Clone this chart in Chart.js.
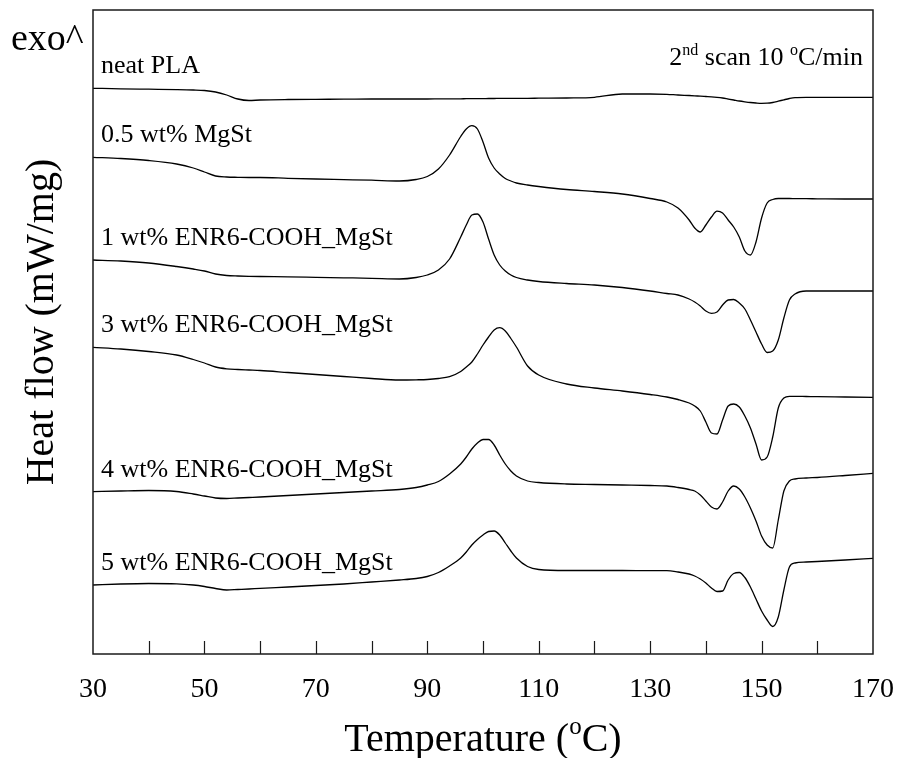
<!DOCTYPE html>
<html>
<head>
<meta charset="utf-8">
<script src="https://cdn.jsdelivr.net/npm/chart.js@4.4.0/dist/chart.umd.min.js"></script>
<style>
  body { margin: 0; background: #fff; }
  #wrap { width: 899px; height: 758px; }
</style>
</head>
<body>
<div id="wrap"><canvas id="grafico-dsc" width="899" height="758"></canvas></div>
<script>
// temperatura (oC)
var temperaturas = [30, 35, 40, 45, 48, 50, 52, 54, 56, 58, 60, 65, 70, 75, 80, 85, 88, 90, 92, 94, 96,
    97, 98, 99, 100, 101, 102, 103, 104, 105, 106, 108, 110, 115, 120, 125, 130, 133, 135,
    137, 138, 139, 140, 141, 142, 143, 144, 145, 146, 147, 148, 149, 150, 151, 152, 153, 154, 155, 156,
    158, 160, 165, 170];

// fluxo de calor com deslocamento vertical entre as curvas
var neatPLA = [5.657, 5.652, 5.648, 5.644, 5.640, 5.635, 5.620, 5.590, 5.550, 5.535, 5.540, 5.545, 5.547, 5.548, 5.550, 5.550, 5.550, 5.550, 5.551, 5.552, 5.552,
    5.553, 5.553, 5.554, 5.554, 5.555, 5.555, 5.556, 5.556, 5.557, 5.557, 5.557, 5.558, 5.560, 5.567, 5.600, 5.600, 5.597, 5.590,
    5.585, 5.582, 5.578, 5.575, 5.572, 5.567, 5.560, 5.550, 5.540, 5.530, 5.522, 5.515, 5.510, 5.507, 5.508, 5.515, 5.528, 5.542, 5.555, 5.564,
    5.567, 5.567, 5.567, 5.567];

var mgst05 = [4.967, 4.955, 4.935, 4.900, 4.860, 4.820, 4.780, 4.770, 4.767, 4.765, 4.765, 4.757, 4.750, 4.744, 4.738, 4.730, 4.745, 4.775, 4.850, 4.990, 5.175,
    5.250, 5.283, 5.250, 5.120, 4.960, 4.860, 4.800, 4.755, 4.730, 4.710, 4.690, 4.675, 4.645, 4.625, 4.600, 4.555, 4.520, 4.460,
    4.340, 4.260, 4.220, 4.290, 4.370, 4.428, 4.410, 4.340, 4.270, 4.170, 4.030, 3.990, 4.120, 4.360, 4.510, 4.545, 4.555, 4.555, 4.555, 4.554,
    4.553, 4.552, 4.550, 4.550];

var enr1 = [3.940, 3.930, 3.910, 3.875, 3.850, 3.830, 3.800, 3.785, 3.780, 3.777, 3.775, 3.772, 3.767, 3.762, 3.757, 3.750, 3.765, 3.790, 3.840, 3.950, 4.170,
    4.290, 4.390, 4.400, 4.320, 4.150, 3.990, 3.890, 3.830, 3.790, 3.765, 3.740, 3.725, 3.705, 3.690, 3.665, 3.630, 3.605, 3.590,
    3.550, 3.520, 3.480, 3.430, 3.407, 3.420, 3.490, 3.540, 3.545, 3.510, 3.450, 3.340, 3.220, 3.100, 3.015, 3.030, 3.140, 3.360, 3.540, 3.600,
    3.630, 3.630, 3.630, 3.630];

var enr3 = [3.067, 3.050, 3.025, 2.990, 2.945, 2.910, 2.870, 2.852, 2.845, 2.840, 2.835, 2.815, 2.795, 2.775, 2.755, 2.740, 2.742, 2.745, 2.755, 2.773, 2.825,
    2.870, 2.920, 3.000, 3.090, 3.170, 3.240, 3.263, 3.230, 3.155, 3.070, 2.880, 2.790, 2.700, 2.660, 2.630, 2.595, 2.570, 2.545,
    2.510, 2.480, 2.430, 2.320, 2.210, 2.200, 2.340, 2.480, 2.500, 2.470, 2.380, 2.260, 2.100, 1.940, 1.970, 2.170, 2.460, 2.560, 2.577, 2.577,
    2.575, 2.573, 2.570, 2.567];

var enr4 = [1.623, 1.630, 1.635, 1.625, 1.600, 1.580, 1.560, 1.555, 1.560, 1.565, 1.570, 1.585, 1.600, 1.615, 1.630, 1.645, 1.665, 1.690, 1.725, 1.800, 1.900,
    1.970, 2.050, 2.110, 2.145, 2.145, 2.090, 1.990, 1.900, 1.830, 1.780, 1.730, 1.715, 1.700, 1.695, 1.690, 1.685, 1.680, 1.665,
    1.645, 1.630, 1.590, 1.530, 1.470, 1.450, 1.520, 1.630, 1.680, 1.650, 1.570, 1.460, 1.330, 1.180, 1.090, 1.060, 1.340, 1.630, 1.730, 1.750,
    1.760, 1.765, 1.785, 1.807];

var enr5 = [0.690, 0.700, 0.705, 0.702, 0.690, 0.675, 0.655, 0.640, 0.645, 0.650, 0.657, 0.670, 0.685, 0.700, 0.720, 0.740, 0.755, 0.775, 0.815, 0.880, 0.960,
    1.020, 1.090, 1.145, 1.190, 1.225, 1.230, 1.190, 1.110, 1.030, 0.960, 0.875, 0.845, 0.835, 0.835, 0.835, 0.833, 0.833, 0.820,
    0.800, 0.780, 0.750, 0.710, 0.660, 0.625, 0.630, 0.740, 0.805, 0.815, 0.765, 0.670, 0.550, 0.430, 0.340, 0.275, 0.370, 0.640, 0.870, 0.910,
    0.920, 0.925, 0.940, 0.957];

var nomes = ['neat PLA', '0.5 wt% MgSt', '1 wt% ENR6-COOH_MgSt', '3 wt% ENR6-COOH_MgSt', '4 wt% ENR6-COOH_MgSt', '5 wt% ENR6-COOH_MgSt'];
var series = [neatPLA, mgst05, enr1, enr3, enr4, enr5];

var fonte = 'Liberation Serif, Times New Roman, serif';

var datasets = series.map((serie, i) => {
    return {
        label: nomes[i],
        data: temperaturas.map((t, j) => ({ x: t, y: serie[j] })),
        borderColor: '#000',
        borderWidth: 1.3,
        pointRadius: 0,
        fill: false,
        cubicInterpolationMode: 'monotone'
    }
})

// desenha texto com partes sobrescritas: [texto, sobrescrito?]
function textoComposto(ctx, partes, x, y, tam, tamSup, subida, alinhar) {
    let largura = 0;
    partes.forEach(p => {
        ctx.font = (p[1] ? tamSup : tam) + 'px ' + fonte;
        largura += ctx.measureText(p[0]).width;
    })
    let px = alinhar == 'right' ? x - largura : alinhar == 'center' ? x - largura / 2 : x;
    partes.forEach(p => {
        ctx.font = (p[1] ? tamSup : tam) + 'px ' + fonte;
        ctx.fillText(p[0], px, p[1] ? y - subida : y);
        px += ctx.measureText(p[0]).width;
    })
}

var moldura = {
    id: 'moldura',
    afterDraw(chart) {
        var ctx = chart.ctx, a = chart.chartArea, sx = chart.scales.x, sy = chart.scales.y;
        ctx.save();
        // caixa
        ctx.strokeStyle = '#1a1a1a';
        ctx.lineWidth = 1.5;
        ctx.strokeRect(a.left, a.top, a.right - a.left, a.bottom - a.top);
        // ticks para dentro
        ctx.lineWidth = 1.2;
        ctx.beginPath();
        sx.ticks.forEach(t => {
            if (t.value > sx.min && t.value < sx.max) {
                let px = Math.round(sx.getPixelForValue(t.value)) + 0.5;
                ctx.moveTo(px, a.bottom);
                ctx.lineTo(px, a.bottom - 13);
            }
        })
        ctx.stroke();

        ctx.fillStyle = '#000';
        ctx.textBaseline = 'alphabetic';
        ctx.textAlign = 'left';

        // nomes das curvas
        ctx.font = '26px ' + fonte;
        series.forEach((serie, i) => {
            ctx.fillText(nomes[i], sx.getPixelForValue(temperaturas[0]) + 8, sy.getPixelForValue(serie[0]) - 15);
        })

        textoComposto(ctx, [['2', false], ['nd', true], [' scan 10 ', false], ['o', true], ['C/min', false]],
            a.right - 10, 65, 26, 16, 10, 'right');

        ctx.font = '38px ' + fonte;
        ctx.fillText('exo^', 11, 50);

        textoComposto(ctx, [['Temperature (', false], ['o', true], ['C)', false]],
            (a.left + a.right) / 2, 751, 40, 25, 17, 'center');

        ctx.translate(53, 322);
        ctx.rotate(-Math.PI / 2);
        ctx.textAlign = 'center';
        ctx.font = '40px ' + fonte;
        ctx.fillText('Heat flow (mW/mg)', 0, 0);
        ctx.restore();
    }
}

new Chart(document.querySelector('#grafico-dsc'), {
    type: 'line',
    data: { datasets },
    options: {
        responsive: false,
        animation: false,
        layout: { padding: { top: 10, right: 26, left: 0, bottom: 0 } },
        plugins: { legend: { display: false }, tooltip: { enabled: false } },
        scales: {
            x: {
                type: 'linear',
                min: 30,
                max: 170,
                afterFit: s => {
                    s.height = 104;
                    s.paddingLeft = 0;
                    s.paddingRight = 0;
                },
                grid: { display: false, drawTicks: false },
                border: { display: false },
                ticks: {
                    stepSize: 10,
                    padding: 19,
                    autoSkip: false,
                    maxRotation: 0,
                    color: '#000',
                    font: { family: fonte, size: 28 },
                    callback: v => (v - 30) % 20 === 0 ? v : ''
                }
            },
            y: {
                min: 0,
                max: 6.44,
                afterFit: s => { s.width = 93 },
                grid: { display: false },
                border: { display: false },
                ticks: { display: false }
            }
        }
    },
    plugins: [moldura]
})
</script>
</body>
</html>
